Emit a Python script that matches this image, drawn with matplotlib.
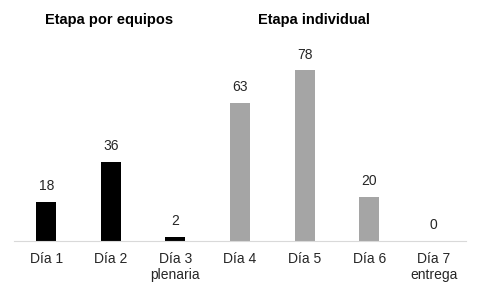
import matplotlib.pyplot as plt

plt.rcParams['font.family'] = ['Liberation Sans', 'DejaVu Sans']

# data
categories = ['Día 1', 'Día 2', 'Día 3\nplenaria', 'Día 4', 'Día 5', 'Día 6', 'Día 7\nentrega']
values = [18, 36, 2, 63, 78, 20, 0]
stage = ['equipos', 'equipos', 'equipos', 'individual', 'individual', 'individual', 'individual']
stage_titles = ['Etapa por equipos', 'Etapa individual']

colors = {'equipos': '#000000', 'individual': '#A5A5A5'}

fig = plt.figure(figsize=(4.8, 2.88), dpi=100)
ax = fig.add_axes([14/480, 1 - 241/288, 452/480, 197/288])

x = range(len(categories))
ax.bar(x, values, width=0.31, color=[colors[s] for s in stage])

for i, v in enumerate(values):
    ax.text(i, v + 4, str(v), ha='center', va='bottom', fontsize=10, color='#262626')

ax.set_xlim(-0.5, len(categories) - 0.5)
ax.set_ylim(0, 90)
ax.set_yticks([])
ax.set_xticks(list(x))
ax.set_xticklabels(categories, fontsize=10, color='#262626', linespacing=1.15)
ax.tick_params(axis='x', length=0, pad=8)

for side in ['top', 'right', 'left']:
    ax.spines[side].set_visible(False)
ax.spines['bottom'].set_color('#D9D9D9')

# stage headers
fig.text(109/480, 1 - 20/288, stage_titles[0], ha='center', va='center',
         fontsize=10.5, fontweight='bold')
fig.text(314/480, 1 - 20/288, stage_titles[1], ha='center', va='center',
         fontsize=10.5, fontweight='bold')

fig.savefig('out.png', dpi=100)
